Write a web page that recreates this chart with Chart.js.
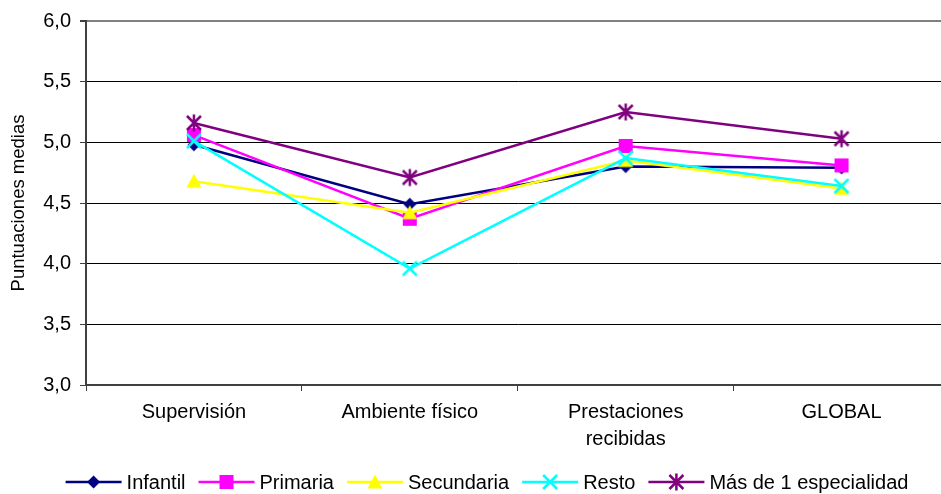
<!DOCTYPE html>
<html>
<head>
<meta charset="utf-8">
<script src="https://cdn.jsdelivr.net/npm/chart.js@4/dist/chart.umd.min.js"></script>
<style>
  html, body { margin: 0; padding: 0; background: #fff; }
  #wrap { width: 941px; height: 494px; overflow: hidden; position: relative; }
  canvas { display: block; }
</style>
</head>
<body>
<div id="wrap"><canvas id="c" width="960" height="494"></canvas></div>
<script>
// Categories and mean scores per group
const categories = ['Supervisión', 'Ambiente físico', ['Prestaciones', 'recibidas'], 'GLOBAL'];
const infantil   = [4.98, 4.49, 4.80, 4.79];
const primaria   = [5.06, 4.37, 4.97, 4.81];
const secundaria = [4.68, 4.42, 4.85, 4.62];
const resto      = [5.01, 3.96, 4.87, 4.64];
const masDeUna   = [5.16, 4.71, 5.25, 5.03];
const seriesNames = ['Infantil', 'Primaria', 'Secundaria', 'Resto', 'Más de 1 especialidad'];
const yMin = 3, yMax = 6, yStep = 0.5;

const FONT = 'Liberation Sans, Arial, sans-serif';

// Marker drawing shared by the plot and the legend
function drawMarker(ctx, kind, color, cx, cy) {
  ctx.save();
  ctx.fillStyle = color;
  ctx.strokeStyle = color;
  ctx.lineWidth = 2.5;
  ctx.beginPath();
  if (kind === 'diamond') {
    ctx.moveTo(cx, cy - 6.5); ctx.lineTo(cx + 6.5, cy); ctx.lineTo(cx, cy + 6.5); ctx.lineTo(cx - 6.5, cy);
    ctx.closePath(); ctx.fill();
  } else if (kind === 'square') {
    ctx.rect(cx - 7, cy - 7, 14, 14); ctx.fill();
  } else if (kind === 'triangle') {
    ctx.moveTo(cx, cy - 7.5); ctx.lineTo(cx + 7.5, cy + 6.5); ctx.lineTo(cx - 7.5, cy + 6.5);
    ctx.closePath(); ctx.fill();
  } else if (kind === 'x') {
    ctx.moveTo(cx - 7, cy - 7); ctx.lineTo(cx + 7, cy + 7);
    ctx.moveTo(cx + 7, cy - 7); ctx.lineTo(cx - 7, cy + 7);
    ctx.stroke();
  } else if (kind === 'asterisk') {
    ctx.moveTo(cx - 7, cy - 7); ctx.lineTo(cx + 7, cy + 7);
    ctx.moveTo(cx + 7, cy - 7); ctx.lineTo(cx - 7, cy + 7);
    ctx.moveTo(cx, cy - 8.5); ctx.lineTo(cx, cy + 8.5);
    ctx.stroke();
  }
  ctx.restore();
}

function markerImage(kind, color) {
  const c = document.createElement('canvas');
  c.width = 20; c.height = 20;
  drawMarker(c.getContext('2d'), kind, color, 10, 10);
  return c;
}

const styles = [
  { color: '#000080', kind: 'diamond' },
  { color: '#FF00FF', kind: 'square' },
  { color: '#FFFF00', kind: 'triangle' },
  { color: '#00FFFF', kind: 'x' },
  { color: '#800080', kind: 'asterisk' }
];
const values = [infantil, primaria, secundaria, resto, masDeUna];

// Later series are painted above earlier ones
const datasets = values.map((v, i) => ({
  label: seriesNames[i],
  data: v,
  order: values.length - i,
  borderColor: styles[i].color,
  backgroundColor: styles[i].color,
  borderWidth: 2.5,
  pointStyle: markerImage(styles[i].kind, styles[i].color),
  pointRadius: 8,
  tension: 0,
  fill: false
}));

// Legend: line segment with marker, followed by the series name
const lineLegend = {
  id: 'lineLegend',
  afterDraw(chart) {
    const ctx = chart.ctx;
    ctx.save();
    ctx.font = '20px ' + FONT;
    ctx.textBaseline = 'middle';
    ctx.textAlign = 'left';
    const seg = 56, gap = 5, sep = 13;
    const widths = seriesNames.map(n => seg + gap + ctx.measureText(n).width);
    const total = widths.reduce((a, b) => a + b, 0) + sep * (widths.length - 1);
    let x = 487 - total / 2;
    const y = 482;
    seriesNames.forEach((name, i) => {
      ctx.strokeStyle = styles[i].color;
      ctx.lineWidth = 2.5;
      ctx.beginPath();
      ctx.moveTo(x, y); ctx.lineTo(x + seg, y);
      ctx.stroke();
      drawMarker(ctx, styles[i].kind, styles[i].color, x + seg / 2, y);
      ctx.fillStyle = '#000';
      ctx.fillText(name, x + seg + gap, y + 1);
      x += widths[i] + sep;
    });
    ctx.restore();
  }
};

new Chart(document.getElementById('c'), {
  type: 'line',
  data: { labels: categories, datasets },
  options: {
    responsive: false,
    animation: false,
    events: [],
    layout: { padding: { top: 21, right: 8, left: 0, bottom: 0 } },
    plugins: { legend: { display: false }, tooltip: { enabled: false } },
    scales: {
      x: {
        offset: true,
        grid: {
          offset: true,
          drawOnChartArea: false,
          drawTicks: true,
          tickLength: 6,
          tickColor: '#404040'
        },
        border: { color: '#404040', width: 2 },
        ticks: {
          color: '#000',
          font: { family: FONT, size: 20, lineHeight: 1.35 },
          padding: 8,
          maxRotation: 0,
          autoSkip: false
        },
        afterFit(scale) { scale.height = 109; }
      },
      y: {
        min: yMin,
        max: yMax,
        grid: {
          color: (c) => (c.tick && c.tick.value === yMax) ? '#808080' : '#000000',
          lineWidth: (c) => (c.tick && c.tick.value === yMax) ? 2 : 1,
          tickLength: 6,
          tickColor: '#404040'
        },
        border: { color: '#404040', width: 2 },
        ticks: {
          stepSize: yStep,
          color: '#000',
          font: { family: FONT, size: 20 },
          padding: 9,
          callback: (v) => v.toFixed(1).replace('.', ',')
        },
        title: {
          display: true,
          text: 'Puntuaciones medias',
          color: '#000',
          font: { family: FONT, size: 18.5 },
          padding: { top: 8, bottom: 0 }
        },
        afterFit(scale) { scale.width = 86; }
      }
    }
  },
  plugins: [lineLegend]
});
</script>
</body>
</html>
